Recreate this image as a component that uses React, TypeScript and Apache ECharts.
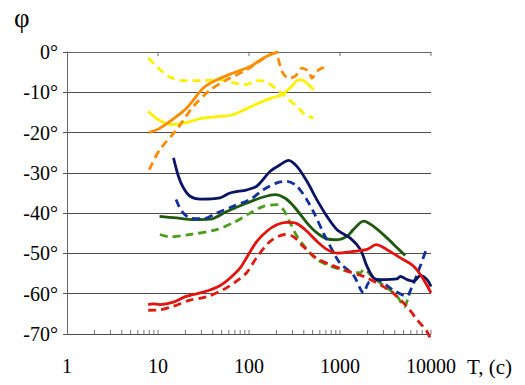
import React, { useEffect, useRef } from "react";
import * as echarts from "echarts";

// Tick values (T, seconds)
const xLabelValues = [1, 10, 100, 1000, 10000];
const bottomTickT = [
  2, 3, 4, 5, 6, 7, 8, 9,
  10, 20, 30, 40, 50, 60, 70, 80, 90,
  100, 200, 300, 400, 500, 600, 700, 800, 900,
  1000, 2000, 3000, 4000, 5000, 6000, 7000, 8000, 9000, 10000,
];
const topTickT = [10, 100, 1000, 10000];
const yMin = -70;
const yMax = 0;

// Series data: [T, phi]
const orangeSolid = [[8, -20], [10.5, -18.9], [16, -16], [20.7, -13.9], [31.6, -8.9], [40.7, -7.3], [67, -5.2], [103, -3.6], [144, -1.5], [186, -0.3], [211, 0]];
const orangeDashed = [[8, -29.2], [10.5, -24.2], [16, -19.3], [24.5, -13.5], [37.5, -9.4], [57, -6.9], [94, -4.4], [157, -1.1], [194, -0.3], [230, -4.8], [272, -6.5], [322, -6], [382, -4], [452, -4.8], [492, -6.5], [558, -4.8], [634, -4], [750, -3.6]];
const yellowDashed = [[7.8, -1.5], [10.1, -4], [13, -6], [18.2, -7.1], [30, -7.1], [46, -6.9], [70, -7.7], [90, -8.1], [127, -7.1], [150, -7.3], [194, -8.9], [250, -11], [350, -13.9], [415, -15.6], [510, -16.4]];
const yellowSolid = [[7.8, -14.7], [10.1, -16.8], [14.2, -18], [19.8, -17.6], [30, -16.5], [46, -16], [64, -15.7], [90, -14.3], [127, -12.7], [178, -11.4], [230, -10.6], [295, -8.5], [350, -6.9], [380, -6.9], [450, -8.1], [512, -9.4]];
const navySolid = [[14.8, -26.3], [16.8, -30.9], [19, -33.7], [22.5, -35.8], [29, -36.5], [48, -36.2], [62, -35], [95, -34.2], [122, -33.3], [171, -29.6], [220, -28], [272, -26.9], [336, -28.4], [433, -32.1], [558, -36.7], [719, -40.8], [927, -44.1], [1297, -46.2], [1672, -49], [1981, -53.2], [2343, -56.1], [2775, -56.5], [4236, -56.3], [4605, -55.7], [5458, -56.5], [6452, -56.9], [7640, -55.5], [9060, -56.5], [10000, -58.2]];
const blueDashed = [[15.8, -36.6], [18.2, -39.5], [22.5, -41.2], [31.5, -41.4], [44, -40], [67, -38.3], [103, -36.6], [144, -34.2], [202, -32.5], [260, -32.1], [335, -33.3], [430, -36.6], [520, -40], [660, -45], [785, -48.3], [1000, -52.4], [1400, -55.3], [1820, -59.8], [2050, -57.3], [2500, -56.5], [3800, -59], [5400, -60.6], [6100, -58.6], [7600, -53.2], [9000, -48.6]];
const greenSolid = [[10.4, -40.8], [16, -41.2], [24.5, -41.6], [37.5, -41.5], [57, -39.6], [95, -37.5], [144, -36], [194, -35.4], [250, -36.3], [310, -38.3], [433, -42.4], [558, -44.9], [719, -46.4], [927, -46.6], [1200, -45.7], [1400, -44.1], [1820, -42], [2340, -43.3], [3300, -46.2], [4240, -48.6], [5200, -50.5]];
const greenDashed = [[10.5, -45.3], [13.5, -45.9], [22.5, -45.3], [44, -44.1], [67, -42.4], [103, -40], [144, -38.3], [202, -37.9], [238, -39.1], [283, -42.4], [336, -45.7], [433, -49], [558, -51.5], [800, -53.2], [1200, -54.4], [1670, -54.8], [1820, -54], [2340, -56.1], [2950, -57.8], [4240, -60.6], [5100, -63.3], [5600, -61], [5900, -59.5]];
const redSolid = [[7.8, -62.7], [8.8, -62.5], [10.5, -62.7], [14.8, -62.1], [20.7, -60.6], [31.6, -59.6], [48, -58], [62, -56.1], [80, -53.6], [95, -50.9], [122, -47], [157, -44.5], [202, -42.9], [260, -42.3], [336, -42.6], [433, -44.5], [558, -47], [719, -49], [927, -49.9], [1400, -49.5], [1980, -49], [2500, -47.8], [3250, -49], [4600, -51.1], [6450, -53.2], [8300, -56.5], [10000, -59.8]];
const redDashed = [[7.8, -64.1], [10.5, -64], [14.8, -63.1], [22.5, -61.6], [34, -60.8], [52, -59], [73, -56.9], [94, -54.8], [120, -51.2], [171, -47], [250, -45.3], [310, -45.9], [395, -48.3], [550, -51.2], [785, -52.8], [1200, -54.4], [1820, -55.7], [2770, -57.8], [3800, -59.8], [5400, -63.1], [7000, -66.4], [9000, -69.3], [10000, -71.5]];

const serif = "Liberation Serif, Times New Roman, serif";

function makeLine(name: string, data: number[][], color: string, dashed: boolean, clip = true) {
  return {
    name,
    type: "line",
    data,
    showSymbol: false,
    symbol: "none",
    smooth: 0.3,
    clip,
    lineStyle: { color, width: 2.8, type: dashed ? [8, 5] : "solid" },
  };
}

function makeTicks(name: string, values: number[], y: number, offset: number) {
  return {
    name,
    type: "scatter",
    data: values.map((t) => [t, y]),
    symbol: "rect",
    symbolSize: [1, 4],
    symbolOffset: [0, offset],
    clip: false,
    silent: true,
    itemStyle: { color: "#555" },
    z: 1,
  };
}

export default function App() {
  const ref = useRef<HTMLDivElement>(null);
  useEffect(() => {
    if (!ref.current) return;
    const chart = echarts.init(ref.current, undefined, { renderer: "svg" });
    chart.setOption({
      animation: false,
      backgroundColor: "#ffffff",
      textStyle: { fontFamily: serif },
      grid: { left: 67, right: 94, top: 52, bottom: 51, containLabel: false },
      xAxis: {
        type: "log",
        logBase: 10,
        min: xLabelValues[0],
        max: xLabelValues[xLabelValues.length - 1],
        axisLine: { show: true, lineStyle: { color: "#666", width: 1 } },
        axisTick: { show: false },
        splitLine: { show: false },
        axisLabel: {
          show: true,
          fontFamily: serif,
          fontSize: 20,
          color: "#000",
          margin: 22,
          formatter: (v: number) => String(Math.round(v)),
        },
      },
      yAxis: {
        type: "value",
        min: yMin,
        max: yMax,
        interval: 10,
        axisLine: { show: true, lineStyle: { color: "#666", width: 1 } },
        axisTick: { show: true, inside: false, length: 4, lineStyle: { color: "#555" } },
        splitLine: { show: true, lineStyle: { color: "#4d4d4d", width: 1 } },
        axisLabel: {
          fontFamily: serif,
          fontSize: 20,
          color: "#000",
          margin: 9,
          formatter: "{value}°",
        },
      },
      graphic: [
        {
          type: "text",
          left: 14,
          top: 4,
          style: { text: "φ", font: `27px ${serif}`, fill: "#000" },
        },
        {
          type: "text",
          left: 467,
          top: 356,
          style: { text: "T, (c)", font: `21px ${serif}`, fill: "#000" },
        },
      ],
      series: [
        makeTicks("bottom ticks", bottomTickT, yMin, -2),
        makeTicks("top ticks", topTickT, yMax, 2),
        makeLine("yellow dashed", yellowDashed, "#fff000", true),
        makeLine("yellow", yellowSolid, "#fff000", false),
        makeLine("orange dashed", orangeDashed, "#ff8c00", true),
        makeLine("orange", orangeSolid, "#ff8c00", false),
        makeLine("green dashed", greenDashed, "#4a9e1a", true),
        makeLine("green", greenSolid, "#1d5a0c", false),
        makeLine("blue dashed", blueDashed, "#1230a0", true),
        makeLine("navy", navySolid, "#0a1464", false),
        makeLine("red dashed", redDashed, "#e01a10", true, false),
        makeLine("red", redSolid, "#e3120b", false),
      ],
    });
    return () => chart.dispose();
  }, []);
  return (
    <div
      ref={ref}
      style={{ position: "absolute", left: 0, top: 0, width: 525, height: 385 }}
    />
  );
}
